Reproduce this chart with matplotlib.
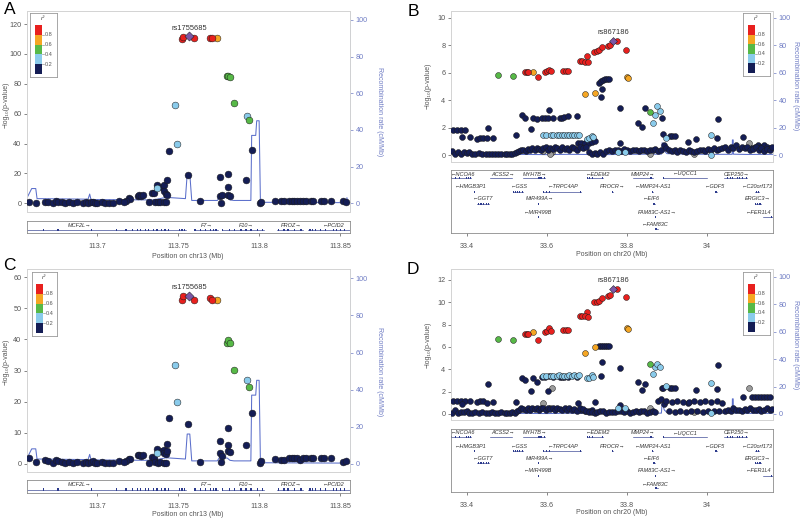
import numpy as np
import matplotlib
matplotlib.use('Agg')
import matplotlib.pyplot as plt
from matplotlib.patches import Rectangle

plt.rcParams['font.family'] = ['Liberation Sans', 'DejaVu Sans']

# ---------------- Panel A / C data (chr13) ----------------
a_pos = [113.7526, 113.7532, 113.7571, 113.7598, 113.7697, 113.7712, 113.7738,
         113.7800, 113.7809, 113.7821, 113.7846, 113.7929, 113.7939,
         113.7484, 113.7495, 113.7447, 113.7960, 113.7565, 113.7759, 113.7809,
         113.7922, 113.7809, 113.7759, 113.7769, 113.7809, 113.7821, 113.7763,
         113.7370, 113.7372, 113.7401, 113.7416, 113.7435, 113.7412, 113.7426, 113.7432, 113.7339, 113.7350,
         113.7360, 113.7375, 113.7391, 113.7412, 113.7426, 113.7319,
         113.7251, 113.7261, 113.7271, 113.7284, 113.7195, 113.7205, 113.7180, 113.7137, 113.7164,
         113.6581, 113.6626, 113.6678, 113.6699, 113.6730, 113.6746, 113.6761, 113.6781, 113.6802, 113.6829,
         113.6854, 113.6874, 113.6916, 113.6930, 113.6947, 113.6961, 113.6974, 113.6988, 113.7003, 113.7029,
         113.7050, 113.7077, 113.7098,
         113.7639,
         113.8007, 113.8015, 113.8098, 113.8139, 113.8156, 113.8187, 113.8201, 113.8218, 113.8234, 113.8255,
         113.8270, 113.8290, 113.8321, 113.8332, 113.8383, 113.8400, 113.8445, 113.8518, 113.8538]
a_logp = [110, 111.5, 112, 111, 111, 111, 110.8,
          85, 85.5, 84.5, 67, 58.5, 55.6,
          65.7, 40, 35.3, 35.7, 19, 17.7, 19.7,
          15.7, 10.8, 5, 5.5, 5.5, 5, 0,
          12.4, 10, 11, 12, 15.7, 8, 6, 5.5, 7, 6.5,
          0.8, 0.5, 0.8, 0.5, 0.8, 0.8,
          5, 5.5, 4.8, 5.2, 3.5, 2.5, 1.8, 1.5, 1,
          0.5, 0.3, 0.8, 0.5, 0.3, 1.5, 1, 0.5, 0.3, 0.6,
          0.3, 0.8, 0.3, 0.6, 0.3, 0.5, 1, 0.3, 0.3, 0.5,
          0.3, 0.2, 0.3,
          1.3,
          0, 0.6, 1.2, 1.2, 1.2, 1.5, 1.2, 1.5, 1.2, 1.5,
          1.5, 1.2, 1.5, 1.2, 1.5, 1.8, 1.2, 1.2, 0.8]
c_logp = [52.8, 54.1, 54.1, 52.8, 53.4, 52.8, 52.7,
          38.8, 39.9, 38.8, 30.3, 26.8, 24.7,
          31.9, 19.8, 14.8, 16.4, 12.9, 7.3, 11.5,
          6.1, 5.9, 3.4, 2.5, 4.0, 3.8, 0.5,
          4.6, 3.5, 4.1, 4.3, 6.4, 3.5, 3.2, 4.0, 2.1, 1.8,
          0.5, 0.3, 0.4, 0.3, 0.3, 0.2,
          2.7, 2.9, 2.4, 2.7, 1.6, 1.4, 1.0, 0.8, 0.5,
          1.8, 0.5, 1.1, 0.7, 0.2, 1.3, 0.7, 0.5, 0.2, 0.5,
          0.2, 0.5, 0.2, 0.4, 0.2, 0.5, 0.7, 0.2, 0.2, 0.5,
          0.2, 0.2, 0.2,
          0.6,
          0.3, 0.8, 1.5, 1.2, 1.3, 1.8, 1.8, 1.8, 1.8, 1.3,
          1.8, 1.8, 1.8, 1.8, 1.8, 1.8, 1.8, 0.5, 1.0]
a_r2 = [0.9, 0.9, 1.0, 0.9, 0.9, 0.9, 0.7,
        0.5, 0.5, 0.5, 0.5, 0.3, 0.5,
        0.3, 0.3, 0.1, 0.1, 0.1, 0.1, 0.1,
        0.1, 0.1, 0.1, 0.1, 0.1, 0.1, 0.1,
        0.1, 0.3, 0.1, 0.1, 0.1, 0.1, 0.1, 0.1, 0.1, 0.1,
        0.1, 0.1, 0.1, 0.1, 0.1, 0.1,
        0.1, 0.1, 0.1, 0.1, 0.1, 0.1, 0.1, 0.1, 0.1,
        0.1, 0.1, 0.1, 0.1, 0.1, 0.1, 0.1, 0.1, 0.1, 0.1,
        0.1, 0.1, 0.1, 0.1, 0.1, 0.1, 0.1, 0.1, 0.1, 0.1,
        0.1, 0.1, 0.1,
        0.1,
        0.1, 0.1, 0.1, 0.1, 0.1, 0.1, 0.1, 0.1, 0.1, 0.1,
        0.1, 0.1, 0.1, 0.1, 0.1, 0.1, 0.1, 0.1, 0.1]
a_lead = 'rs1755685'

a_rec_pos = [113.656, 113.6597, 113.6600, 113.6622, 113.6630, 113.6945, 113.6955, 113.6963, 113.7350,
             113.7426, 113.7546, 113.7557, 113.7573, 113.7585, 113.7743, 113.7757, 113.7805, 113.7821,
             113.7846, 113.7950, 113.7955, 113.7980, 113.7986, 113.8001, 113.8009, 113.8538, 113.8543,
             113.8549, 113.858]
a_rec = [1.5, 8, 8, 8, 2.5, 2.2, 5, 2, 1.8,
         3.2, 2.5, 16, 16, 1.5, 1.5, 3.5, 3, 1.8,
         1.5, 1.5, 37, 37, 45, 45, 0.5, 0.3, 3,
         0.3, 0.3]

a_gene_names = ['MCF2L', 'F7', 'F10', 'PROZ', 'PCID2']
a_gene_start = [113.640, 113.760, 113.777, 113.811, 113.830]
a_gene_end = [113.7548, 113.775, 113.803, 113.827, 113.870]
a_gene_strand = ['+', '+', '+', '+', '-']
a_gene_label_x = [113.6895, 113.768, 113.792, 113.8197, 113.846]
a_exons = {
    'MCF2L': [113.667, 113.676, 113.6965, 113.712, 113.718, 113.722, 113.725, 113.727, 113.730, 113.732,
              113.735, 113.737, 113.740, 113.742, 113.744, 113.751, 113.752, 113.753, 113.754],
    'F7': [113.7605, 113.764, 113.767, 113.770, 113.772, 113.773, 113.774],
    'F10': [113.7775, 113.782, 113.785, 113.789, 113.792, 113.795, 113.799, 113.802],
    'PROZ': [113.812, 113.8155, 113.818, 113.822, 113.826],
    'PCID2': [113.8315, 113.833, 113.835, 113.838, 113.841, 113.846, 113.848, 113.8505, 113.853],
}

# ---------------- Panel B / D data (chr20) ----------------
b_pos = [33.477, 33.516, 33.545, 33.549, 33.553, 33.566, 33.577, 33.595, 33.599, 33.605,
         33.610, 33.641, 33.647, 33.652, 33.683, 33.688, 33.699, 33.695, 33.703, 33.718,
         33.724, 33.730, 33.737, 33.753, 33.758, 33.765, 33.774, 33.797, 33.799, 33.802,
         33.696, 33.720,
         33.730, 33.735, 33.740, 33.745, 33.750, 33.754, 33.738, 33.734, 33.783, 33.674,
         33.537, 33.545, 33.566, 33.574, 33.587, 33.595, 33.603, 33.614, 33.632, 33.637,
         33.643, 33.653, 33.606, 33.560, 33.522,
         33.366, 33.374, 33.385, 33.395, 33.387, 33.407, 33.424, 33.432, 33.440, 33.449,
         33.452, 33.466,
         33.591, 33.597, 33.610, 33.616, 33.624, 33.631, 33.637, 33.643, 33.649, 33.655,
         33.662, 33.668, 33.675, 33.680, 33.699, 33.705, 33.712, 33.716,
         33.678, 33.686, 33.694, 33.704, 33.712, 33.720,
         33.827, 33.837, 33.845, 33.8575, 33.866, 33.870, 33.876, 33.8825, 33.887, 33.891,
         33.897, 33.907, 33.913, 33.920, 33.952, 33.972, 34.010, 34.024, 34.028, 34.089,
         34.009, 34.112, 34.119, 34.128, 34.135, 34.143, 34.151, 34.158, 33.778, 33.795,
         33.7825,
         33.612, 33.589, 33.607, 33.858, 33.968, 34.106]
b_logp = [5.85, 5.75, 6.04, 6.04, 6.04, 6.09, 5.7, 6.09, 6.16, 6.23,
          6.13, 6.16, 6.16, 6.13, 6.88, 6.88, 7.25, 6.8, 6.76, 7.54,
          7.6, 7.65, 7.85, 7.97, 8.04, 8.33, 8.33, 7.65, 5.72, 5.6,
          4.47, 4.54,
          5.27, 5.43, 5.5, 5.55, 5.58, 5.55, 4.83, 4.23, 3.45, 2.85,
          2.9, 2.73, 2.73, 2.6, 2.7, 2.7, 2.72, 2.7, 2.7, 2.72,
          2.75, 2.83, 3.26, 1.93, 1.45,
          1.86, 1.86, 1.81, 1.81, 1.28, 1.28, 1.2, 1.25, 1.25, 1.25,
          1.98, 1.26,
          1.45, 1.45, 1.45, 1.45, 1.45, 1.45, 1.45, 1.45, 1.45, 1.45,
          1.45, 1.45, 1.45, 1.45, 1.2, 1.25, 1.4, 1.35,
          0.85, 0.9, 0.9, 0.9, 0.95, 1.0,
          2.37, 2.05, 3.43, 3.14, 2.37, 2.95, 3.57, 3.24, 2.7, 1.5,
          1.26, 1.38, 1.38, 1.38, 0.97, 1.2, 1.45, 1.26, 2.6, 1.3,
          0.0, 0.5, 0.6, 0.7, 0.6, 0.7, 0.6, 0.5, 0.24, 0.24,
          0.85,
          0.2, 0.3, 0.1, 0.1, 0.1, 0.85]
d_logp = [6.72, 6.6, 7.16, 7.16, 7.16, 7.31, 6.63, 7.37, 7.45, 7.67,
          7.45, 7.52, 7.52, 7.52, 8.78, 8.78, 9.16, 8.78, 8.72, 10.0,
          10.05, 10.15, 10.4, 10.6, 10.66, 11.2, 11.2, 10.45, 7.67, 7.58,
          5.43, 6.03,
          6.1, 6.1, 6.12, 6.12, 6.1, 6.1, 4.69, 3.4, 4.15, 3.3,
          3.25, 3.04, 3.2, 2.84, 3.3, 3.35, 2.06, 3.3, 3.3, 3.35,
          3.3, 3.3, 3.4, 2.09, 1.04,
          1.2, 1.2, 1.15, 1.2, 0.9, 1.15, 1.1, 1.15, 1.15, 1.0,
          2.69, 1.1,
          3.4, 3.38, 3.42, 3.4, 3.4, 3.45, 3.4, 3.42, 3.4, 3.45,
          3.4, 3.45, 3.42, 3.45, 3.2, 3.25, 3.5, 3.3,
          0.96, 0.4, 0.3, 0.3, 0.4, 1.1,
          2.84, 2.15, 2.66, 4.5, 3.58, 4.24, 4.45, 4.2, 2.3, 2.3,
          2.54, 2.36, 2.3, 2.3, 1.0, 2.12, 2.75, 2.2, 4.39, 1.49,
          0.1, 1.5, 1.5, 1.5, 1.5, 1.5, 1.5, 1.5, 0.5, 0.5,
          0.8,
          2.36, 1.01, 0.5, 0.5, 0.2, 2.36]
b_r2 = [0.5, 0.5, 0.9, 0.9, 0.9, 0.7, 0.9, 0.9, 0.9, 0.9,
        0.9, 0.9, 0.9, 0.9, 0.9, 0.9, 0.9, 0.9, 0.9, 0.9,
        0.9, 0.9, 0.9, 0.9, 0.9, 1.0, 0.9, 0.9, 0.7, 0.7,
        0.7, 0.7,
        0.1, 0.1, 0.1, 0.1, 0.1, 0.1, 0.1, 0.1, 0.1, 0.1,
        0.1, 0.1, 0.1, 0.1, 0.1, 0.1, 0.1, 0.1, 0.1, 0.1,
        0.1, 0.1, 0.1, 0.1, 0.1,
        0.1, 0.1, 0.1, 0.1, 0.1, 0.1, 0.1, 0.1, 0.1, 0.1,
        0.1, 0.1,
        0.3, 0.3, 0.3, 0.3, 0.3, 0.3, 0.3, 0.3, 0.3, 0.3,
        0.3, 0.3, 0.3, 0.3, 0.3, 0.3, 0.3, 0.3,
        0.1, 0.1, 0.1, 0.1, 0.1, 0.1,
        0.1, 0.1, 0.1, 0.5, 0.3, 0.3, 0.3, 0.3, 0.1, 0.1,
        0.3, 0.1, 0.1, 0.1, 0.1, 0.1, 0.3, 0.1, 0.1, 0.1,
        0.3, 0.1, 0.1, 0.1, 0.1, 0.1, 0.1, 0.1, 0.3, 0.3,
        0.1,
        np.nan, np.nan, np.nan, np.nan, np.nan, np.nan]
b_lead = 'rs867186'

# background band of weak SNPs (r2 < 0.2)
bl_pos = [33.362, 33.370, 33.378, 33.386, 33.393, 33.399, 33.404, 33.412, 33.421, 33.430,
          33.438, 33.447, 33.455, 33.463, 33.470, 33.478, 33.486, 33.494, 33.501, 33.507,
          33.513, 33.519, 33.526, 33.531, 33.536, 33.541, 33.547, 33.552, 33.558, 33.563,
          33.569, 33.574, 33.580, 33.585, 33.591, 33.597, 33.602, 33.608, 33.614, 33.620,
          33.626, 33.632, 33.638, 33.644, 33.650, 33.656, 33.662, 33.668, 33.675, 33.683,
          33.690, 33.697, 33.705, 33.712, 33.719, 33.726, 33.733, 33.740, 33.747, 33.755,
          33.762, 33.770, 33.777, 33.786, 33.793, 33.801, 33.808, 33.815, 33.822, 33.829,
          33.836, 33.843, 33.850, 33.857, 33.864, 33.871, 33.878, 33.885, 33.892, 33.898,
          33.905, 33.912, 33.919, 33.926, 33.933, 33.940, 33.947, 33.954, 33.961, 33.968,
          33.975, 33.982, 33.989, 33.996, 34.003, 34.010, 34.017, 34.024, 34.031, 34.038,
          34.045, 34.052, 34.059, 34.066, 34.073, 34.080, 34.087, 34.094, 34.101, 34.108,
          34.115, 34.122, 34.129, 34.136, 34.143, 34.150, 34.157, 34.163]
bl_b = [0.3, 0.05, 0.2, 0.1, 0.25, 0.15, 0.2, 0.1, 0.05, 0.15,
        0.1, 0.05, 0.1, 0.1, 0.05, 0.1, 0.05, 0.1, 0.1, 0.05,
        0.1, 0.15, 0.2, 0.3, 0.35, 0.4, 0.3, 0.45, 0.35, 0.5,
        0.4, 0.5, 0.45, 0.35, 0.5, 0.55, 0.4, 0.5, 0.45, 0.55,
        0.5, 0.4, 0.55, 0.45, 0.5, 0.35, 0.55, 0.5, 0.4, 0.6,
        0.5, 0.55, 0.2, 0.1, 0.15, 0.05, 0.2, 0.1, 0.3, 0.35,
        0.3, 0.35, 0.4, 0.3, 0.45, 0.35, 0.3, 0.4, 0.35, 0.3,
        0.35, 0.4, 0.3, 0.35, 0.4, 0.45, 0.3, 0.35, 0.75, 0.5,
        0.35, 0.3, 0.4, 0.25, 0.35, 0.3, 0.2, 0.35, 0.3, 0.25,
        0.3, 0.4, 0.35, 0.3, 0.45, 0.4, 0.5, 0.35, 0.45, 0.5,
        0.55, 0.4, 0.6, 0.5, 0.7, 0.45, 0.6, 0.5, 0.55, 0.4,
        0.45, 0.6, 0.35, 0.5, 0.3, 0.45, 0.4, 0.55]
bl_d = [0.1, 0.35, 0.05, 0.2, 0.15, 0.3, 0.05, 0.1, 0.2, 0.05,
        0.15, 0.1, 0.05, 0.2, 0.1, 0.05, 0.15, 0.1, 0.05, 0.1,
        0.2, 0.1, 0.3, 0.4, 0.5, 0.45, 0.35, 0.5, 0.4, 0.55,
        0.45, 0.5, 0.4, 0.55, 0.5, 0.4, 0.5, 0.45, 0.55, 0.4,
        0.5, 0.45, 0.4, 0.55, 0.35, 0.5, 0.4, 0.45, 0.3, 0.5,
        0.45, 0.3, 0.2, 0.15, 0.1, 0.2, 0.3, 0.25, 0.1, 0.2,
        0.15, 0.2, 0.3, 0.25, 0.2, 0.3, 0.1, 0.15, 0.25, 0.2,
        0.3, 0.25, 0.1, 0.2, 0.3, 0.15, 1.15, 1.3, 0.9, 1.2,
        0.3, 1.1, 0.2, 1.15, 0.25, 1.05, 0.2, 1.1, 0.3, 1.15,
        0.25, 1.1, 0.2, 1.2, 0.3, 1.1, 0.25, 1.15, 0.3, 1.0,
        0.25, 0.4, 0.3, 0.5, 0.35, 0.4, 0.3, 0.45, 0.35, 0.5,
        0.4, 0.35, 0.45, 0.3, 0.4, 0.5, 0.35, 0.45]

bd_rec_pos = [33.3575, 33.40, 33.45, 33.50, 33.55, 33.60, 33.65, 33.70, 33.75, 33.80, 33.85, 33.886,
              33.888, 33.893, 33.90, 33.95, 34.00, 34.063, 34.0635, 34.0655, 34.066, 34.10, 34.165]
bd_rec = [0.5, 0.4, 0.3, 0.5, 0.4, 0.3, 0.5, 0.4, 0.3, 0.5, 0.6, 0.6,
          9, 3, 1, 0.6, 0.5, 0.5, 11, 11, 0.6, 0.4, 0.5]

bd_gene_names = ['NCOA6', 'ACSS2', 'MYH7B', 'EDEM2', 'MMP24', 'UQCC1', 'CEP250',
                 'HMGB3P1', 'GSS', 'TRPC4AP', 'PROCR', 'MMP24-AS1', 'GDF5', 'C20orf173',
                 'GGT7', 'MIR499A', 'EIF6', 'ERGIC3',
                 'MIR499B', 'FAM83C-AS1', 'FER1L4',
                 'FAM83C']
bd_gene_start = [33.30, 33.457, 33.540, 33.700, 33.814, 33.890, 34.043,
                 33.419, 33.515, 33.590, 33.7635, 33.862, 34.020, 34.121,
                 33.426, 33.578, 33.865, 34.120,
                 33.578, 33.870, 34.140,
                 33.870]
bd_gene_end = [33.41, 33.512, 33.595, 33.740, 33.866, 34.000, 34.100,
               33.420, 33.540, 33.685, 33.7655, 33.864, 34.025, 34.130,
               33.455, 33.5785, 33.869, 34.135,
               33.5785, 33.8705, 34.200,
               33.877]
bd_gene_strand = ['-', '+', '+', '-', '+', '-', '+',
                  '-', '-', '-', '+', '-', '-', '-',
                  '-', '+', '-', '+',
                  '-', '+', '-',
                  '-']
bd_gene_row = [0, 0, 0, 0, 0, 0, 0,
               1, 1, 1, 1, 1, 1, 1,
               2, 2, 2, 2,
               3, 3, 3,
               4]
bd_gene_label_x = [33.39, 33.49, 33.57, 33.728, 33.84, 33.945, 34.075,
                   33.408, 33.53, 33.64, 33.765, 33.865, 34.02, 34.125,
                   33.44, 33.583, 33.862, 34.128,
                   33.578, 33.875, 34.128,
                   33.87]
bd_exons = {
    'NCOA6': [33.362, 33.372, 33.381, 33.390, 33.399, 33.404, 33.408],
    'ACSS2': [33.460, 33.475, 33.490, 33.495, 33.500, 33.505, 33.510],
    'MYH7B': [33.545, 33.560, 33.575, 33.578, 33.581, 33.584, 33.587, 33.590, 33.593],
    'EDEM2': [33.702, 33.706, 33.710, 33.714, 33.720, 33.730, 33.738],
    'MMP24': [33.815, 33.845, 33.855, 33.858, 33.862, 33.865],
    'UQCC1': [33.892, 33.910, 33.930, 33.950, 33.965, 33.980, 33.995],
    'CEP250': [34.045, 34.052, 34.058, 34.064, 34.070, 34.076, 34.082, 34.088, 34.095, 34.099],
    'HMGB3P1': [33.4195],
    'GSS': [33.517, 33.522, 33.527, 33.531, 33.535, 33.538],
    'TRPC4AP': [33.592, 33.598, 33.606, 33.615, 33.630, 33.645, 33.660, 33.675, 33.684],
    'PROCR': [33.764, 33.765],
    'MMP24-AS1': [33.863],
    'GDF5': [34.021, 34.024],
    'C20orf173': [34.123, 34.128],
    'GGT7': [33.428, 33.433, 33.437, 33.441, 33.445, 33.449, 33.453],
    'MIR499A': [33.5783],
    'EIF6': [33.866, 33.868],
    'ERGIC3': [34.122, 34.126, 34.131, 34.134],
    'MIR499B': [33.5783],
    'FAM83C-AS1': [33.8703],
    'FER1L4': [34.145, 34.155, 34.162],
    'FAM83C': [33.871, 33.873, 33.875],
}

# ---------------- styling ----------------
W, H = 800, 520
RED, ORANGE, GREEN, LBLUE, NAVY = '#E8201E', '#F5A623', '#57B947', '#8ACBEB', '#141D55'
PURPLE, GREY = '#7B57A6', '#9C9C9C'
REC_COL = '#5B6FCB'
RTXT = '#6F7CC4'
TXT = '#555555'
GENE_COL = '#2C3A8C'


def fr(x0, y0, x1, y1):
    return [x0 / W, 1 - y1 / H, (x1 - x0) / W, (y1 - y0) / H]


def ld_color(r):
    if r is None or (isinstance(r, float) and np.isnan(r)):
        return GREY
    if r >= 1.0:
        return PURPLE
    if r >= 0.8:
        return RED
    if r >= 0.6:
        return ORANGE
    if r >= 0.4:
        return GREEN
    if r >= 0.2:
        return LBLUE
    return NAVY


fig = plt.figure(figsize=(8, 5.2), dpi=100)


def draw_legend(box):
    lax = fig.add_axes(fr(*box))
    lax.set_xlim(0, 1)
    lax.set_ylim(0, 1)
    lax.set_xticks([])
    lax.set_yticks([])
    for s in lax.spines.values():
        s.set_color('#999999')
        s.set_linewidth(0.6)
    cols = [RED, ORANGE, GREEN, LBLUE, NAVY]
    top, bot = 0.81, 0.05
    step = (top - bot) / 5
    for i, c in enumerate(cols):
        lax.add_patch(Rectangle((0.17, top - (i + 1) * step), 0.27, step, color=c, lw=0))
    for i, lab in enumerate(['0.8', '0.6', '0.4', '0.2']):
        yy = top - (i + 1) * step
        lax.plot([0.44, 0.52], [yy, yy], color='#777777', lw=0.4)
        lax.text(0.56, yy, lab, fontsize=4.0, color='#555555', va='center', ha='left')
    lax.text(0.5, 0.91, 'r²', fontsize=4.6, color='#444444', ha='center', va='center', style='italic')


def draw_panel(main_box, gene_box, leg_box, xlim, ylim, yticks, rylim, xticks, xticklabels,
               xlabel, xlabel_xy, ylabel_xy, rlabel_xy, letter, letter_xy,
               pos, logp, r2, lead_name, rec_pos, rec, genes, exons, gene_rows_lab, gene_rows_line,
               gene_h, msize, exon_w, right_spine_col):
    ax = fig.add_axes(fr(*main_box))
    ax2 = ax.twinx()
    ax.set_zorder(ax2.get_zorder() + 1)
    ax.patch.set_visible(False)
    ax.set_xlim(*xlim)
    ax.set_ylim(*ylim)
    ax2.set_ylim(*rylim)
    ax2.plot(rec_pos, rec, color=REC_COL, lw=0.75, zorder=1)
    ax.set_xticks([])
    ax.set_yticks(yticks)
    ax.set_yticklabels([str(v) for v in yticks])
    ax2.set_yticks([0, 20, 40, 60, 80, 100])
    ax.tick_params(axis='y', labelsize=5.2, colors=TXT, length=2.5, width=0.5, pad=1.5)
    ax2.tick_params(axis='y', labelsize=5.2, colors=RTXT, length=2.5, width=0.5, pad=1.5)
    for a in (ax, ax2):
        for s in a.spines.values():
            s.set_color('#D4D4D4')
            s.set_linewidth(0.7)
    ax2.spines['right'].set_color(right_spine_col)

    pos = np.asarray(pos, float)
    logp = np.asarray(logp, float)
    r2 = np.asarray(r2, float)
    key = np.where(np.isnan(r2), -1, r2)
    order = np.argsort(key, kind='stable')
    lead_i = None
    for i in order:
        if key[i] >= 1.0:
            lead_i = i
            continue
        ax.scatter(pos[i], logp[i], s=msize, color=ld_color(r2[i]), edgecolors='#1b1b1b',
                   linewidths=0.35, zorder=3)
    if lead_i is not None:
        ax.scatter(pos[lead_i], logp[lead_i], s=msize * 0.9, marker='D', color=PURPLE,
                   edgecolors='#1b1b1b', linewidths=0.35, zorder=4)
        ax.annotate(lead_name, (pos[lead_i], logp[lead_i]), xytext=(0, 3.2), textcoords='offset points',
                    ha='center', va='bottom', fontsize=5.4, color='#333333')

    fig.text(ylabel_xy[0] / W, 1 - ylabel_xy[1] / H, '\u2212log\u2081\u2080(p-value)', rotation=90,
             ha='center', va='center', fontsize=5.0, color=TXT)
    fig.text(rlabel_xy[0] / W, 1 - rlabel_xy[1] / H, 'Recombination rate (cM/Mb)', rotation=270,
             ha='center', va='center', fontsize=5.0, color=RTXT)
    fig.text(letter_xy[0] / W, 1 - letter_xy[1] / H, letter, ha='center', va='center', fontsize=12.5,
             color='black')

    gax = fig.add_axes(fr(*gene_box))
    gax.set_xlim(*xlim)
    gax.set_ylim(0, gene_h)
    gax.set_yticks([])
    gax.set_xticks(xticks)
    gax.set_xticklabels(xticklabels)
    gax.tick_params(axis='x', labelsize=5.2, colors=TXT, length=2, width=0.5, pad=5)
    for s in gax.spines.values():
        s.set_color('#8C8C8C')
        s.set_linewidth(0.6)
    names, starts, ends, strands, rows, labx = genes
    for n, s0, e0, st, r, lx in zip(names, starts, ends, strands, rows, labx):
        ly = gene_rows_line[r]
        gax.plot([max(s0, xlim[0]), min(e0, xlim[1])], [ly, ly], color=GENE_COL, lw=0.45)
        for ex in exons.get(n, []):
            gax.add_patch(Rectangle((ex - exon_w / 2, ly - 1.3), exon_w, 2.6, color=GENE_COL, lw=0))
        txt = n + '\u2192' if st == '+' else '\u2190' + n
        gax.text(lx, gene_rows_lab[r], txt, ha='center', va='center', fontsize=4.0, style='italic',
                 color='#333333')
    fig.text(xlabel_xy[0] / W, 1 - xlabel_xy[1] / H, xlabel, ha='center', va='center', fontsize=5.0,
             color=TXT)

    draw_legend(leg_box)


a_genes = (a_gene_names, a_gene_start, a_gene_end, a_gene_strand, [0] * len(a_gene_names), a_gene_label_x)
bd_genes = (bd_gene_names, bd_gene_start, bd_gene_end, bd_gene_strand, bd_gene_row, bd_gene_label_x)

bd_pos_all = b_pos + bl_pos
b_logp_all = b_logp + bl_b
d_logp_all = d_logp + bl_d
bd_r2_all = b_r2 + [0.1] * len(bl_pos)

# Panel A
draw_panel((27, 11, 350, 212), (27, 221, 350, 233), (30, 13, 57, 77),
           (113.6568, 113.8562), (-5.9, 128.8), [0, 20, 40, 60, 80, 100, 120], (-4.8, 104.9),
           [113.7, 113.75, 113.8, 113.85], ['113.7', '113.75', '113.8', '113.85'],
           'Position on chr13 (Mb)', (188, 256), (6, 105), (379, 112), 'A', (10, 10),
           a_pos, a_logp, a_r2, a_lead, a_rec_pos, a_rec, a_genes, a_exons, [7.5], [3.0],
           12, 24, 0.0008, RTXT)

# Panel C
draw_panel((27, 269, 350, 472), (27, 480, 350, 493), (32, 272, 57, 336),
           (113.6568, 113.8562), (-2.7, 62.7), [0, 10, 20, 30, 40, 50, 60], (-4.5, 105.1),
           [113.7, 113.75, 113.8, 113.85], ['113.7', '113.75', '113.8', '113.85'],
           'Position on chr13 (Mb)', (188, 515), (6, 362), (379, 372), 'C', (9, 265),
           a_pos, c_logp, a_r2, a_lead, a_rec_pos, a_rec, a_genes, a_exons, [8.0], [3.2],
           13, 24, 0.0008, RTXT)

# Panel B
draw_panel((451, 11, 773, 162), (451, 170, 773, 233), (743, 13, 770, 76),
           (33.36, 34.165), (-0.51, 10.51), [0, 2, 4, 6, 8, 10], (-5.1, 105.1),
           [33.4, 33.6, 33.8, 34.0], ['33.4', '33.6', '33.8', '34'],
           'Position on chr20 (Mb)', (612, 255), (428, 86), (795, 86), 'B', (413, 11),
           bd_pos_all, b_logp_all, bd_r2_all, b_lead, bd_rec_pos, bd_rec, bd_genes, bd_exons,
           [59, 46, 34, 21, 8], [55, 41, 29, 16, 4], 63, 18, 0.0022, '#D4D4D4')

# Panel D
draw_panel((451, 269, 773, 420), (451, 429, 773, 492), (743, 272, 770, 335),
           (33.36, 34.165), (-0.54, 12.98), [0, 2, 4, 6, 8, 10, 12], (-4.4, 105.6),
           [33.4, 33.6, 33.8, 34.0], ['33.4', '33.6', '33.8', '34'],
           'Position on chr20 (Mb)', (612, 513), (428, 345), (795, 345), 'D', (413, 270),
           bd_pos_all, d_logp_all, bd_r2_all, b_lead, bd_rec_pos, bd_rec, bd_genes, bd_exons,
           [59, 46, 34, 21, 8], [55, 41, 29, 16, 4], 63, 18, 0.0022, '#D4D4D4')

fig.savefig('out.png', dpi=100)
